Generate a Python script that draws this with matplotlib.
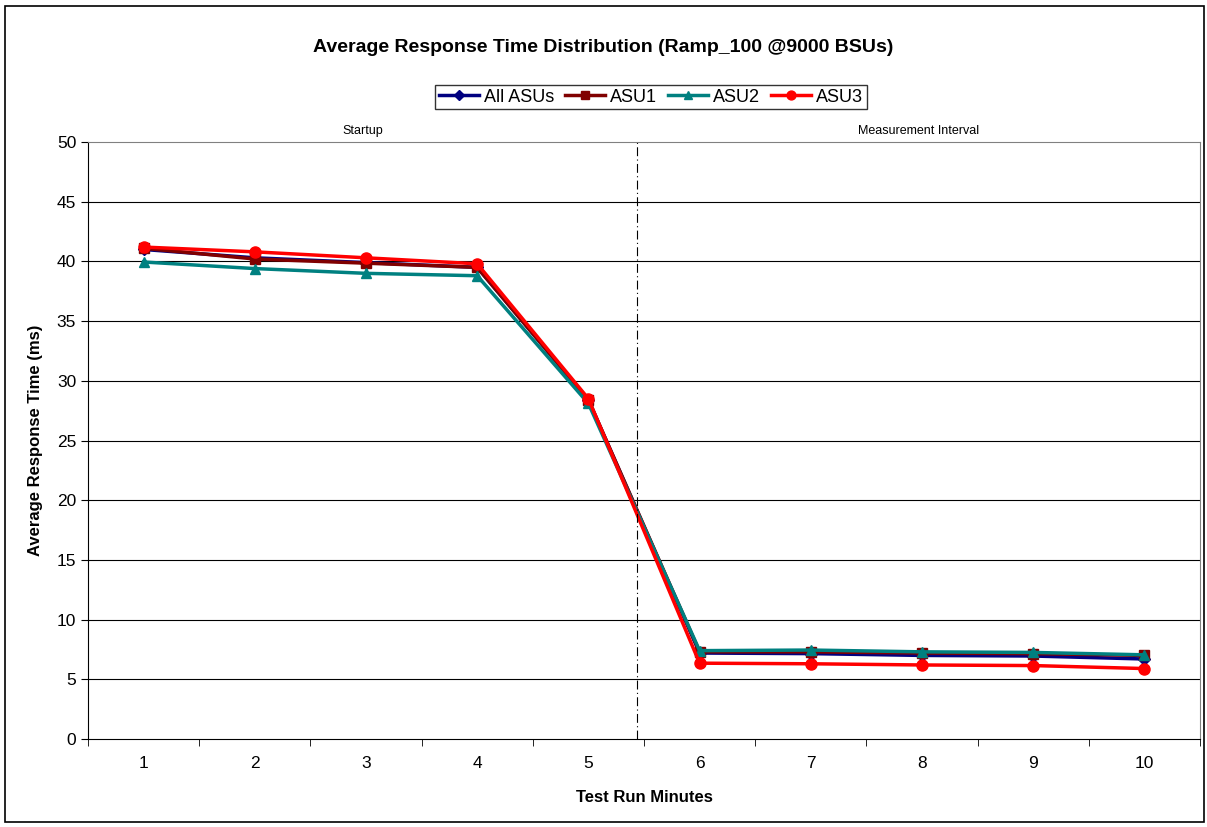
import matplotlib.pyplot as plt
import numpy as np
from matplotlib.patches import Rectangle

plt.rcParams['font.family'] = ['Liberation Sans', 'DejaVu Sans']

minutes = [1, 2, 3, 4, 5, 6, 7, 8, 9, 10]
all_asus = [41.0, 40.3, 39.9, 39.5, 28.4, 7.2, 7.15, 7.0, 6.95, 6.7]
asu1 = [41.1, 40.2, 39.85, 39.5, 28.4, 7.3, 7.3, 7.2, 7.15, 7.0]
asu2 = [39.95, 39.4, 39.0, 38.8, 28.1, 7.4, 7.45, 7.3, 7.25, 7.05]
asu3 = [41.2, 40.8, 40.3, 39.8, 28.5, 6.35, 6.3, 6.2, 6.15, 5.9]
split_x = 5.44
phase_labels = ["Startup", "Measurement Interval"]

fig = plt.figure(figsize=(12.07, 8.27), dpi=100)
fig.patches.append(Rectangle((5/1207, 5/827), 1199/1207, 816/827, transform=fig.transFigure,
                             fill=False, edgecolor='black', linewidth=1.2))
ax = fig.add_axes([88/1207, (827-739)/827, (1200-88)/1207, (739-142)/827])

ax.plot(minutes, all_asus, color='#000080', marker='D', markersize=6, linewidth=2.5, label='All ASUs')
ax.plot(minutes, asu1, color='#800000', marker='s', markersize=7, linewidth=2.5, label='ASU1')
ax.plot(minutes, asu2, color='#008080', marker='^', markersize=7, linewidth=2.5, label='ASU2')
ax.plot(minutes, asu3, color='#ff0000', marker='o', markersize=8, linewidth=2.5, label='ASU3')

ax.set_xlim(0.5, 10.5)
ax.set_ylim(0, 50)
ax.set_yticks(np.arange(0, 51, 5))
ax.set_xticks(minutes)
ax.set_xticks(np.arange(0.5, 10.6, 1), minor=True)
ax.tick_params(axis='x', which='major', length=0, labelsize=12.5, pad=12)
ax.tick_params(axis='x', which='minor', length=5, direction='out')
ax.tick_params(axis='y', labelsize=12.5, length=5, direction='out')
for y in range(5, 50, 5):
    ax.axhline(y, color='black', linewidth=0.8, zorder=0)
for s in ['top', 'right']:
    ax.spines[s].set_color('#808080')
ax.axvline(split_x, color='black', linewidth=0.8, dashes=(8, 3, 1, 3))
ax.text((0.5 + split_x) / 2, 50.4, phase_labels[0], ha='center', va='bottom', fontsize=9)
ax.text((split_x + 10.5) / 2, 50.4, phase_labels[1], ha='center', va='bottom', fontsize=9)

ax.set_xlabel('Test Run Minutes', fontsize=12, fontweight='bold', labelpad=14)
ax.set_ylabel('Average Response Time (ms)', fontsize=12, fontweight='bold', labelpad=10)
fig.text(0.5, 1 - 47/827, 'Average Response Time Distribution (Ramp_100 @9000 BSUs)',
         ha='center', va='center', fontsize=14, fontweight='bold')
leg = fig.legend(loc='center', bbox_to_anchor=(651/1207, 1 - 97/827), ncol=4, fontsize=13,
                 frameon=True, fancybox=False, edgecolor='black', handlelength=2.2,
                 columnspacing=0.6, handletextpad=0.3, borderpad=0.2, markerscale=0.8)
leg.get_frame().set_linewidth(1.0)

fig.savefig('out.png', dpi=100)
